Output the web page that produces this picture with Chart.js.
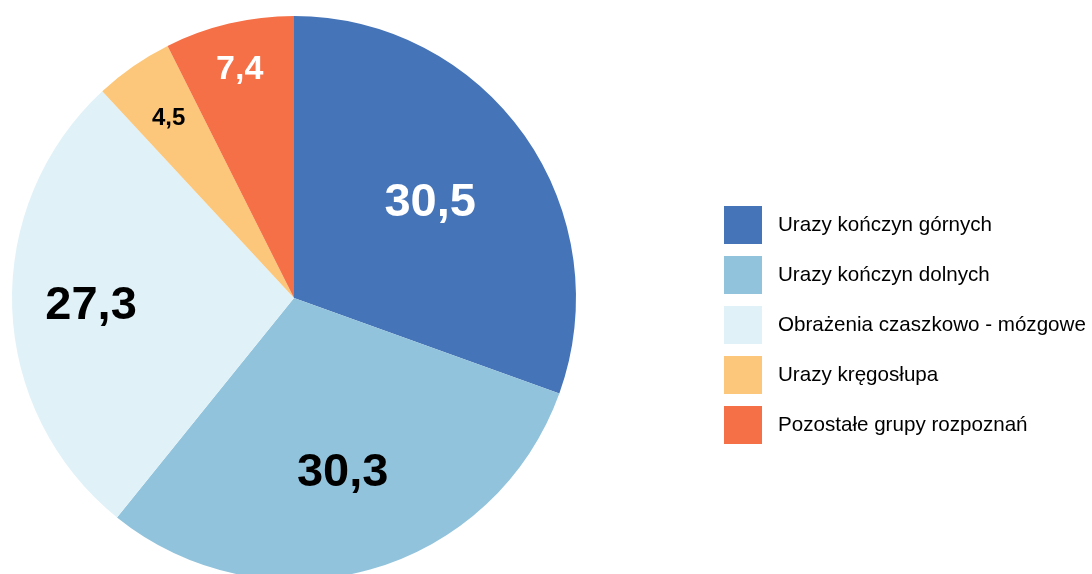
<!DOCTYPE html>
<html>
<head>
<meta charset="utf-8">
<script src="https://cdn.jsdelivr.net/npm/chart.js@4.4.0/dist/chart.umd.min.js"></script>
<style>
  html, body { margin: 0; padding: 0; background: #fff; }
  canvas { display: block; }
</style>
</head>
<body>
<canvas id="c1" width="1092" height="574"></canvas>
<script>
var categories = ['Urazy kończyn górnych', 'Urazy kończyn dolnych', 'Obrażenia czaszkowo - mózgowe', 'Urazy kręgosłupa', 'Pozostałe grupy rozpoznań'];
var values = [30.5, 30.3, 27.3, 4.5, 7.4];
var colors = ['#4674b8', '#91c3dc', '#e0f2f8', '#fcc77a', '#f57046'];

// label styling per slice (size, colour, distance from centre as part of radius)
var labelSize = [47, 47, 47, 24, 34];
var labelColor = ['#ffffff', '#000000', '#000000', '#000000', '#ffffff'];
var labelRadius = [0.59, 0.64, 0.72, 0.78, 0.835];

var fmt = (v) => v.toFixed(1).replace('.', ',');

var sliceLabels = {
    id: 'sliceLabels',
    afterDatasetsDraw: function(chart) {
        var ctx = chart.ctx;
        var arcs = chart.getDatasetMeta(0).data;
        ctx.save();
        ctx.textAlign = 'center';
        ctx.textBaseline = 'middle';
        arcs.forEach(function(arc, i) {
            var p = arc.getProps(['x', 'y', 'startAngle', 'endAngle', 'outerRadius']);
            var mid = (p.startAngle + p.endAngle) / 2;
            var r = p.outerRadius * labelRadius[i];
            ctx.font = 'bold ' + labelSize[i] + 'px "Liberation Sans", Arial, sans-serif';
            ctx.fillStyle = labelColor[i];
            ctx.fillText(fmt(values[i]), p.x + r * Math.cos(mid), p.y + r * Math.sin(mid) + 1);
        });
        ctx.restore();
    }
};

var sideLegend = {
    id: 'sideLegend',
    afterDraw: function(chart) {
        var ctx = chart.ctx;
        ctx.save();
        ctx.font = '20.6px "Liberation Sans", Arial, sans-serif';
        ctx.textBaseline = 'middle';
        ctx.textAlign = 'left';
        categories.forEach(function(name, i) {
            var y = 206 + i * 50;
            ctx.fillStyle = colors[i];
            ctx.fillRect(724, y, 38, 38);
            ctx.fillStyle = '#000000';
            ctx.fillText(name, 778, y + 19);
        });
        ctx.restore();
    }
};

(function(divId){
    var div = document.getElementById(divId);
    if (!div)
        return;

    var ctx = div.getContext("2d");
    var chart = new Chart(ctx, {
        type: 'pie',
        data: {
            labels: categories,
            datasets: [{
                data: values,
                backgroundColor: colors,
                borderWidth: 0,
                radius: 282
            }]
        },
        options: {
            responsive: false,
            animation: false,
            layout: {
                padding: { left: 12, right: 516, top: 22, bottom: 0 }
            },
            plugins: {
                legend: { display: false },
                tooltip: { enabled: false }
            }
        },
        plugins: [sliceLabels, sideLegend]
    });
})("c1");
</script>
</body>
</html>
